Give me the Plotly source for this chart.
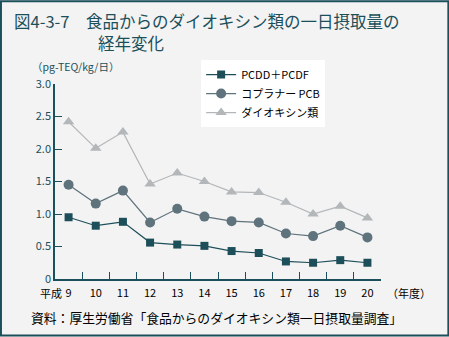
import plotly.graph_objects as go

years = ["9", "10", "11", "12", "13", "14", "15", "16", "17", "18", "19", "20"]
pcdd_pcdf = [0.95, 0.82, 0.88, 0.56, 0.53, 0.51, 0.43, 0.40, 0.27, 0.25, 0.29, 0.25]
coplanar_pcb = [1.45, 1.16, 1.36, 0.87, 1.08, 0.96, 0.89, 0.87, 0.70, 0.66, 0.82, 0.64]
dioxins = [2.42, 2.01, 2.26, 1.46, 1.63, 1.50, 1.34, 1.33, 1.18, 1.00, 1.12, 0.94]
ytick_vals = [0, 0.5, 1.0, 1.5, 2.0, 2.5, 3.0]
ytick_text = ["0", "0.5", "1.0", "1.5", "2.0", "2.5", "3.0"]

TEAL = "#1b4f5a"
FONT = "Noto Sans CJK JP"
W, H = 449, 337
L, R, T, B = 55, 380.7, 84, 279.3


def px(x):
    return (x - L) / (R - L)


def py(y):
    return (B - y) / (B - T)


fig = go.Figure()
fig.add_trace(go.Scatter(x=years, y=pcdd_pcdf, name="PCDD＋PCDF", mode="lines+markers",
                         line=dict(color="#1d4f5a", width=1.2),
                         marker=dict(symbol="square", size=8, color="#1d4f5a")))
fig.add_trace(go.Scatter(x=years, y=coplanar_pcb, name="コプラナー PCB", mode="lines+markers",
                         line=dict(color="#5f737c", width=1.2),
                         marker=dict(symbol="circle", size=10, color="#5f737c")))
fig.add_trace(go.Scatter(x=years, y=dioxins, name="ダイオキシン類", mode="lines+markers",
                         line=dict(color="#b3b7b9", width=1.2),
                         marker=dict(symbol="triangle-up", size=10, color="#b3b7b9")))

fig.update_layout(
    width=W, height=H,
    margin=dict(l=L, r=W - R, t=T, b=H - B, pad=0),
    paper_bgcolor="#f3f3f3", plot_bgcolor="#f3f3f3",
    font=dict(family=FONT, size=11, color="#000000"),
    showlegend=True,
    legend=dict(x=px(201), y=py(60), xanchor="left", yanchor="top",
                bgcolor="#ffffff", borderwidth=0,
                font=dict(family=FONT, size=11, color="#000000"),
                itemwidth=30, tracegroupgap=0,
                entrywidth=110),
    xaxis=dict(type="category", range=[-0.5, 11.5], showline=True, linecolor=TEAL,
               linewidth=1.5, ticks="inside", ticklen=7, tickcolor=TEAL,
               tickson="boundaries", ticklabelstandoff=3,
               tickfont=dict(family=FONT, size=11, color="#000000"),
               showgrid=False, zeroline=False),
    yaxis=dict(range=[0, 3.0], showline=True, linecolor=TEAL, linewidth=1.5,
               ticks="inside", ticklen=7, tickcolor=TEAL,
               tickvals=ytick_vals, ticktext=ytick_text,
               tickfont=dict(family=FONT, size=11, color=TEAL),
               showgrid=False, zeroline=False),
)

ann = []
ann.append(dict(x=px(64), y=py(293), xref="paper", yref="paper", text="平成", showarrow=False,
                xanchor="right", yanchor="middle",
                font=dict(family=FONT, size=11, color="#000000")))
ann.append(dict(x=px(385), y=py(293), xref="paper", yref="paper", text="（年度）",
                showarrow=False, xanchor="left", yanchor="middle",
                font=dict(family=FONT, size=11, color="#000000")))
ann.append(dict(x=px(12), y=py(21), xref="paper", yref="paper",
                text="図4-3-7　食品からのダイオキシン類の一日摂取量の",
                showarrow=False, xanchor="left", yanchor="middle",
                font=dict(family=FONT, size=16.5, color=TEAL)))
ann.append(dict(x=px(96), y=py(43), xref="paper", yref="paper", text="経年変化",
                showarrow=False, xanchor="left", yanchor="middle",
                font=dict(family=FONT, size=16.5, color=TEAL)))
ann.append(dict(x=px(30), y=py(66), xref="paper", yref="paper", text="（pg-TEQ/kg/日）",
                showarrow=False, xanchor="left", yanchor="middle",
                font=dict(family=FONT, size=10.5, color=TEAL)))
ann.append(dict(x=px(29), y=py(318), xref="paper", yref="paper",
                text="資料：厚生労働省「食品からのダイオキシン類一日摂取量調査」",
                showarrow=False, xanchor="left", yanchor="middle",
                font=dict(family=FONT, size=12.8, color="#000000")))
fig.update_layout(annotations=ann)

fig.add_shape(type="rect", xref="paper", yref="paper",
              x0=px(1), x1=px(W - 1), y0=py(H - 1), y1=py(1),
              line=dict(color=TEAL, width=2), fillcolor="rgba(0,0,0,0)", layer="above")

fig.write_html("out.html")
